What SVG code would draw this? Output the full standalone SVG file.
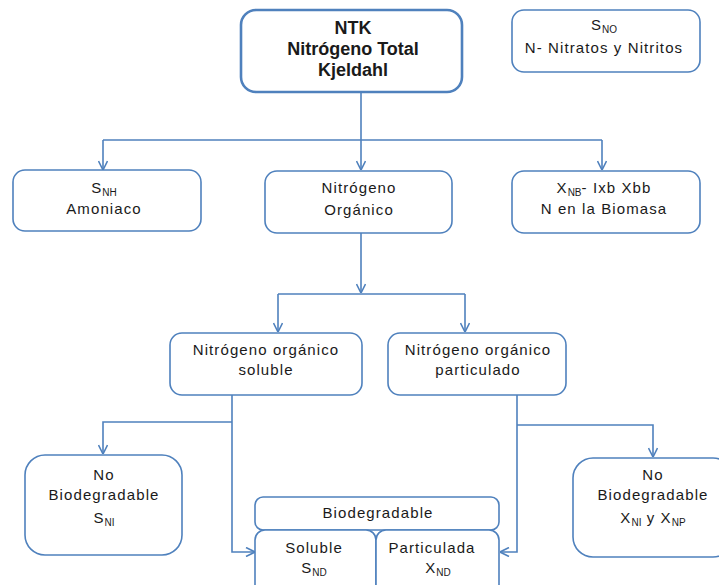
<svg xmlns="http://www.w3.org/2000/svg" width="719" height="585" viewBox="0 0 719 585">
<defs>
<style>
.box{fill:#fff;stroke:#4f81bd;stroke-width:1.6}
.main{fill:#fff;stroke:#4f81bd;stroke-width:2.6}
.t{font-family:"Liberation Sans",Arial,sans-serif;font-size:15px;fill:#1a1a1a;text-anchor:middle;letter-spacing:1.1px}
.b{font-family:"Liberation Sans",Arial,sans-serif;font-size:18px;font-weight:bold;fill:#1a1a1a;text-anchor:middle}
.sub{font-size:10px;letter-spacing:0}
.c{fill:none;stroke:#4f81bd;stroke-width:1.6}
</style>
<marker id="ar" viewBox="0 0 10 10" refX="10" refY="5" markerWidth="10" markerHeight="10" markerUnits="userSpaceOnUse" orient="auto">
<path d="M1,0.5 L10,5 L1,9.5" fill="none" stroke="#4f81bd" stroke-width="1.6"/>
</marker>
</defs>
<rect width="719" height="585" fill="#fff"/>
<g id="connectors">
<path class="c" d="M361,93 V170" marker-end="url(#ar)"/>
<path class="c" d="M103,140 H602"/>
<path class="c" d="M103,140 V170" marker-end="url(#ar)"/>
<path class="c" d="M602,140 V170" marker-end="url(#ar)"/>
<path class="c" d="M361,233 V293" marker-end="url(#ar)"/>
<path class="c" d="M278,294 H465"/>
<path class="c" d="M278,294 V332" marker-end="url(#ar)"/>
<path class="c" d="M465,294 V332" marker-end="url(#ar)"/>
<path class="c" d="M232,395 V552 H255" marker-end="url(#ar)"/>
<path class="c" d="M232,422 H103 V454" marker-end="url(#ar)"/>
<path class="c" d="M517,395 V552 H500" marker-end="url(#ar)"/>
<path class="c" d="M517,425 H653 V457" marker-end="url(#ar)"/>
</g>
<g id="ntk">
<rect class="main" x="241" y="10" width="221" height="82" rx="15"/>
<text class="b" x="353" y="34">NTK</text>
<text class="b" x="353" y="55">Nitrógeno Total</text>
<text class="b" x="353" y="76">Kjeldahl</text>
</g>
<g id="sno">
<rect class="box" x="512" y="10" width="188" height="62" rx="12"/>
<text class="t" x="604" y="30">S<tspan class="sub" dy="3">NO</tspan></text>
<text class="t" x="604" y="53">N- Nitratos y Nitritos</text>
</g>
<g id="snh">
<rect class="box" x="13" y="170" width="188" height="61" rx="12"/>
<text class="t" x="104" y="193">S<tspan class="sub" dy="3">NH</tspan></text>
<text class="t" x="104" y="214">Amoniaco</text>
</g>
<g id="organico">
<rect class="box" x="265" y="171" width="187" height="62" rx="12"/>
<text class="t" x="359" y="193">Nitrógeno</text>
<text class="t" x="359" y="215">Orgánico</text>
</g>
<g id="xnb">
<rect class="box" x="512" y="171" width="188" height="62" rx="12"/>
<text class="t" x="604" y="193">X<tspan class="sub" dy="3">NB</tspan><tspan dy="-3">- Ixb Xbb</tspan></text>
<text class="t" x="604" y="214">N en la Biomasa</text>
</g>
<g id="soluble">
<rect class="box" x="170" y="333" width="192" height="62" rx="12"/>
<text class="t" x="266" y="355">Nitrógeno orgánico</text>
<text class="t" x="266" y="375">soluble</text>
</g>
<g id="particulado">
<rect class="box" x="388" y="333" width="178" height="62" rx="12"/>
<text class="t" x="478" y="355">Nitrógeno orgánico</text>
<text class="t" x="478" y="375">particulado</text>
</g>
<g id="snoi">
<rect class="box" x="25" y="455" width="157" height="100" rx="20"/>
<text class="t" x="104" y="480">No</text>
<text class="t" x="104" y="500">Biodegradable</text>
<text class="t" x="104" y="523">S<tspan class="sub" dy="3">NI</tspan></text>
</g>
<g id="biodeg">
<rect class="box" x="255" y="497" width="244" height="33" rx="8"/>
<text class="t" x="378" y="518">Biodegradable</text>
</g>
<g id="snd">
<rect class="box" x="255" y="530" width="121" height="70" rx="10"/>
<text class="t" x="314" y="553">Soluble</text>
<text class="t" x="314" y="573">S<tspan class="sub" dy="3">ND</tspan></text>
</g>
<g id="xnd">
<rect class="box" x="376" y="530" width="123" height="70" rx="10"/>
<text class="t" x="432" y="553">Particulada</text>
<text class="t" x="438" y="573">X<tspan class="sub" dy="3">ND</tspan></text>
</g>
<g id="xni">
<rect class="box" x="573" y="458" width="160" height="99" rx="20"/>
<text class="t" x="653" y="480">No</text>
<text class="t" x="653" y="500">Biodegradable</text>
<text class="t" x="653" y="523">X<tspan class="sub" dy="3">NI</tspan><tspan dy="-3"> y X</tspan><tspan class="sub" dy="3">NP</tspan></text>
</g>
</svg>
